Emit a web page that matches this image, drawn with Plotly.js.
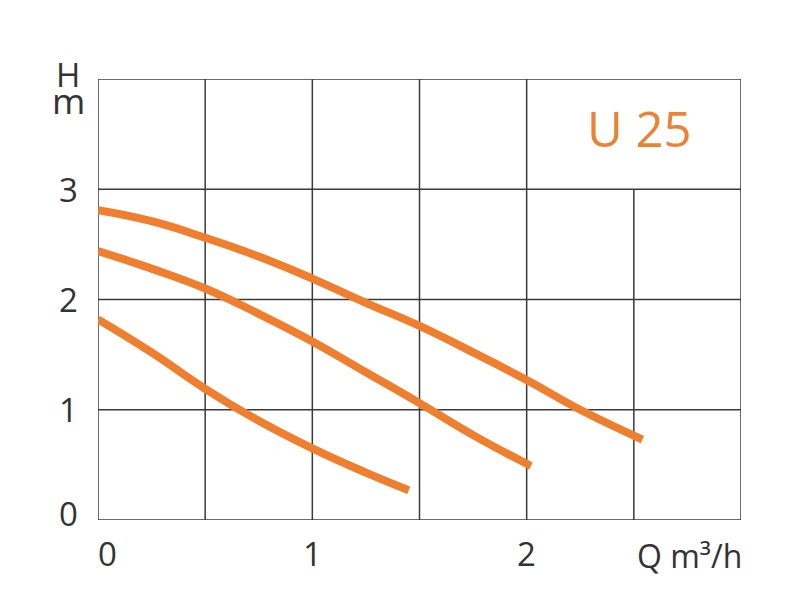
<!DOCTYPE html>
<html>
<head>
<meta charset="utf-8">
<script src="https://cdn.plot.ly/plotly-3.0.1.min.js"></script>
<style>html,body{margin:0;padding:0;background:#fff;}#chart{width:792px;height:600px;}</style>
</head>
<body>
<div id="chart"></div>
<script>
// Curve data (Q in m3/h, H in m)
const q1 = [0, 0.25, 0.5, 0.75, 1.0, 1.25, 1.5, 1.75, 2.0, 2.25, 2.54];
const h1 = [2.81, 2.71, 2.56, 2.39, 2.19, 1.97, 1.76, 1.52, 1.27, 1.00, 0.73];
const q2 = [0, 0.25, 0.5, 0.75, 1.0, 1.25, 1.5, 1.75, 2.02];
const h2 = [2.44, 2.28, 2.10, 1.87, 1.62, 1.34, 1.06, 0.77, 0.49];
const q3 = [0, 0.25, 0.5, 0.75, 1.0, 1.25, 1.45];
const h3 = [1.82, 1.52, 1.19, 0.90, 0.65, 0.43, 0.27];

// Axes / grid
const xGrid = [0, 0.5, 1, 1.5, 2, 2.5, 3];
const yGrid = [0, 1, 2, 3, 4];
const xTickVals = [0, 1, 2];
const xTickText = ['0', '1', '2'];
const yTickVals = [0, 1, 2, 3];
const yTickText = ['0', '1', '2', '3'];
const xLabel = 'Q m³/h';
const yLabelTop = 'H';
const yLabelBottom = 'm';
const chartLabel = 'U 25';

const orange = '#EF7F2E';
const labelOrange = '#EC8236';
const gridColor = '#3a3a3a';
const textColor = '#333333';
const fontFam = '"Open Sans", "Noto Sans", sans-serif';

const curves = [[q1, h1], [q2, h2], [q3, h3]];
const traces = curves.map(([q, h]) => ({
  x: q, y: h, type: 'scatter', mode: 'lines',
  line: {color: orange, width: 8, shape: 'spline', smoothing: 1.3},
  hoverinfo: 'skip', showlegend: false
}));

const shapes = [];
xGrid.forEach(v => {
  shapes.push({type: 'line', xref: 'x', yref: 'y', x0: v, x1: v, y0: 0,
    y1: (v === 2.5 ? 3 : 4), line: {color: gridColor, width: 1.5}, layer: 'below'});
});
yGrid.forEach(v => {
  shapes.push({type: 'line', xref: 'x', yref: 'y', x0: 0, x1: 3, y0: v, y1: v,
    line: {color: gridColor, width: 1.5}, layer: 'below'});
});

const annotations = [];
xTickVals.forEach((v, i) => {
  annotations.push({x: v, y: 0, xref: 'x', yref: 'paper', text: xTickText[i],
    showarrow: false, xanchor: 'center', yanchor: 'middle',
    xshift: (v === 0 ? 9 : 0), yshift: -33,
    font: {family: fontFam, size: 33, color: textColor}});
});
yTickVals.forEach((v, i) => {
  annotations.push({x: 0, y: v, xref: 'paper', yref: 'y', text: yTickText[i],
    showarrow: false, xanchor: 'center', yanchor: 'middle',
    xshift: -30, yshift: (v === 0 ? 7 : 0),
    font: {family: fontFam, size: 33, color: textColor}});
});
annotations.push({x: 1, y: 0, xref: 'paper', yref: 'paper', text: xLabel,
  showarrow: false, xanchor: 'right', yanchor: 'middle', xshift: 3, yshift: -35,
  font: {family: fontFam, size: 32, color: textColor}});
annotations.push({x: 0, y: 1, xref: 'paper', yref: 'paper', text: yLabelTop,
  showarrow: false, xanchor: 'center', yanchor: 'middle', xshift: -30, yshift: 5,
  height: 28, borderpad: 0,
  font: {family: fontFam, size: 33, color: textColor}});
annotations.push({x: 0, y: 1, xref: 'paper', yref: 'paper', text: yLabelBottom,
  showarrow: false, xanchor: 'center', yanchor: 'middle', xshift: -30, yshift: -22,
  height: 26, borderpad: 0,
  font: {family: fontFam, size: 36, color: textColor}});
annotations.push({x: 2.522, y: 3.56, xref: 'x', yref: 'y', text: chartLabel,
  showarrow: false, xanchor: 'center', yanchor: 'middle',
  font: {family: fontFam, size: 49, color: labelOrange}});

const layout = {
  width: 792, height: 600,
  margin: {l: 97.5, r: 51, t: 79, b: 79.5, pad: 0},
  paper_bgcolor: '#ffffff', plot_bgcolor: '#ffffff',
  xaxis: {range: [0, 3], showgrid: false, zeroline: false, showticklabels: false,
    ticks: '', showline: false, fixedrange: true},
  yaxis: {range: [0, 4], showgrid: false, zeroline: false, showticklabels: false,
    ticks: '', showline: false, fixedrange: true},
  shapes: shapes,
  annotations: annotations,
  showlegend: false
};

Plotly.newPlot('chart', traces, layout, {displayModeBar: false, staticPlot: true});
</script>
</body>
</html>
